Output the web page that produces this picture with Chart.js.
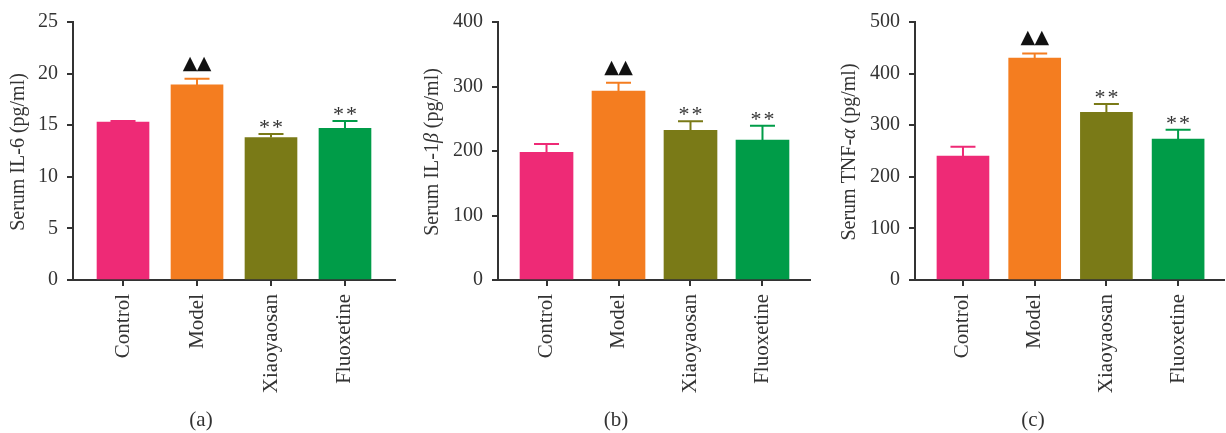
<!DOCTYPE html>
<html>
<head>
<meta charset="utf-8">
<script src="https://cdn.jsdelivr.net/npm/chart.js@4.4.1/dist/chart.umd.min.js"></script>
<style>
  body { margin: 0; background: #fff; width: 1226px; height: 433px; position: relative; overflow: hidden; }
  .panel { position: absolute; top: 0; height: 433px; }
</style>
</head>
<body>
<div class="panel" style="left:0;width:410px"><canvas id="chartA" width="410" height="433"></canvas></div>
<div class="panel" style="left:410px;width:410px"><canvas id="chartB" width="410" height="433"></canvas></div>
<div class="panel" style="left:820px;width:406px"><canvas id="chartC" width="406" height="433"></canvas></div>
<script>
const categories = ['Control', 'Model', 'Xiaoyaosan', 'Fluoxetine'];
const barColors = ['#ee2a76', '#f47d20', '#7a7a17', '#009c48'];
const marks = ['', '▲▲', '**', '**'];

// IL-6 (a)
const il6Values = [15.3, 18.9, 13.8, 14.7];
const il6Errors = [0.1, 0.6, 0.35, 0.7];
// IL-1beta (b)
const il1bValues = [198, 293, 232, 217];
const il1bErrors = [13, 13, 14, 22];
// TNF-alpha (c)
const tnfValues = [240, 430, 325, 273];
const tnfErrors = [18, 9, 16, 18];

const serif = "'Liberation Serif', 'Times New Roman', serif";
const ink = '#333';

// error bars, significance marks, y title and panel letter
const extras = {
    id: 'extras',
    afterDatasetsDraw(chart, args, opts) {
        const ctx = chart.ctx;
        const yScale = chart.scales.y;
        const meta = chart.getDatasetMeta(0);
        meta.data.forEach((bar, i) => {
            const top = yScale.getPixelForValue(opts.values[i] + opts.errors[i]);
            ctx.save();
            ctx.strokeStyle = barColors[i];
            ctx.lineWidth = 2;
            ctx.beginPath();
            ctx.moveTo(bar.x, bar.y);
            ctx.lineTo(bar.x, top);
            ctx.moveTo(bar.x - 12.5, top);
            ctx.lineTo(bar.x + 12.5, top);
            ctx.stroke();

            const mark = marks[i];
            if (mark) {
                const isTri = mark[0] === '▲';
                ctx.font = isTri ? "19px 'DejaVu Sans'" : '22px ' + serif;
                ctx.fillStyle = isTri ? '#111' : ink;
                ctx.textAlign = 'center';
                ctx.textBaseline = 'alphabetic';
                const gap = isTri ? 7 : 6;
                const half = isTri ? 7 : 6.5;
                const chars = [...mark];
                chars.forEach((ch, k) => {
                    const m = ctx.measureText(ch);
                    const cx = bar.x + (k === 0 ? -half : half);
                    ctx.fillText(ch, cx, top - gap - m.actualBoundingBoxDescent);
                });
            }
            ctx.restore();
        });
    },
    afterDraw(chart, args, opts) {
        const ctx = chart.ctx;
        ctx.save();
        // y title with italic greek letters
        const size = 20;
        let total = 0;
        opts.title.forEach(([t, it]) => {
            ctx.font = (it ? 'italic ' : '') + size + 'px ' + serif;
            total += ctx.measureText(t).width;
        });
        ctx.translate(opts.titleX, 152);
        ctx.rotate(-Math.PI / 2);
        ctx.fillStyle = ink;
        ctx.textBaseline = 'middle';
        ctx.textAlign = 'left';
        let x = -total / 2;
        opts.title.forEach(([t, it]) => {
            ctx.font = (it ? 'italic ' : '') + size + 'px ' + serif;
            ctx.fillText(t, x, 0);
            x += ctx.measureText(t).width;
        });
        ctx.restore();

        ctx.save();
        ctx.font = '21px ' + serif;
        ctx.fillStyle = ink;
        ctx.textAlign = 'center';
        ctx.textBaseline = 'middle';
        ctx.fillText(opts.letter, opts.letterX, 420);
        ctx.restore();
    }
};

function makeChart(id, values, errors, conf) {
    const ctx = document.getElementById(id).getContext('2d');
    return new Chart(ctx, {
        type: 'bar',
        data: {
            datasets: [{
                data: values.map((v, i) => ({ x: i, y: v })),
                backgroundColor: barColors,
                borderWidth: 0,
                barThickness: conf.barWidth
            }]
        },
        options: {
            responsive: false,
            animation: false,
            layout: { padding: { top: 22, right: conf.padRight, left: 0, bottom: 0 } },
            plugins: {
                legend: { display: false },
                tooltip: { enabled: false },
                extras: {
                    values: values,
                    errors: errors,
                    title: conf.title,
                    titleX: conf.titleX,
                    letter: conf.letter,
                    letterX: conf.letterX
                }
            },
            scales: {
                x: {
                    type: 'linear',
                    offset: false,
                    min: conf.xMin,
                    max: conf.xMax,
                    afterBuildTicks: (scale) => {
                        scale.ticks = categories.map((c, i) => ({ value: i }));
                    },
                    afterFit: (scale) => { scale.height = 153; },
                    grid: { offset: false, drawOnChartArea: false, drawTicks: true, tickLength: 6, color: ink, lineWidth: 2 },
                    border: { color: ink, width: 2 },
                    ticks: {
                        autoSkip: false,
                        minRotation: 90,
                        maxRotation: 90,
                        padding: 8,
                        color: ink,
                        font: { family: serif, size: 21 },
                        callback: (v) => categories[v]
                    }
                },
                y: {
                    min: 0,
                    max: conf.yMax,
                    afterFit: (scale) => { scale.width = conf.axisLeft; },
                    grid: { drawOnChartArea: false, drawTicks: true, tickLength: 6, color: ink, lineWidth: 2 },
                    border: { color: ink, width: 2 },
                    ticks: {
                        stepSize: conf.yStep,
                        padding: 9,
                        color: ink,
                        font: { family: serif, size: 20 }
                    }
                }
            }
        },
        plugins: [extras]
    });
}

makeChart('chartA', il6Values, il6Errors, {
    axisLeft: 73, padRight: 15, barWidth: 52, xMin: -0.676, xMax: 3.676,
    yMax: 25, yStep: 5,
    title: [['Serum IL-6 (pg/ml)', false]], titleX: 19,
    letter: '(a)', letterX: 201
});
makeChart('chartB', il1bValues, il1bErrors, {
    axisLeft: 88, padRight: 10, barWidth: 53, xMin: -0.674, xMax: 3.66,
    yMax: 400, yStep: 100,
    title: [['Serum IL-1', false], ['β', true], [' (pg/ml)', false]], titleX: 23,
    letter: '(b)', letterX: 206
});
makeChart('chartC', tnfValues, tnfErrors, {
    axisLeft: 95, padRight: 2, barWidth: 52, xMin: -0.669, xMax: 3.64,
    yMax: 500, yStep: 100,
    title: [['Serum TNF-', false], ['α', true], [' (pg/ml)', false]], titleX: 30,
    letter: '(c)', letterX: 213
});
</script>
</body>
</html>
